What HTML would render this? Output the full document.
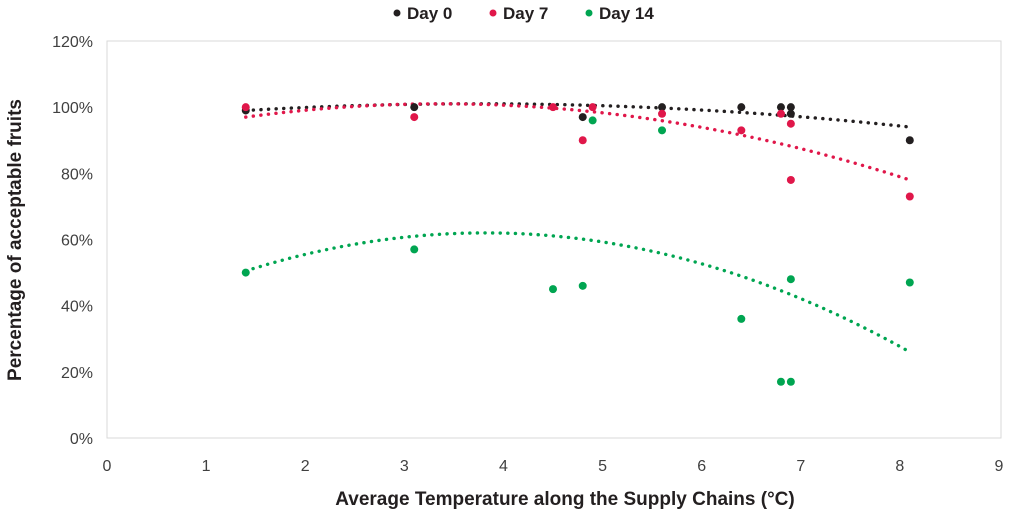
<!DOCTYPE html>
<html><head><meta charset="utf-8"><style>
body{margin:0;background:#fff;}
svg{display:block;font-family:"Liberation Sans",sans-serif;}
</style></head><body>
<svg id="chart" width="1009" height="519">
<rect x="107" y="41" width="894" height="397" fill="none" stroke="#d9d9d9" stroke-width="1"/>
<g id="legend">
<g><circle cx="397" cy="13" r="3.5" fill="#231f20"/><text x="407" y="19" font-size="17" font-weight="bold" fill="#231f20">Day 0</text></g>
<g><circle cx="493" cy="13" r="3.5" fill="#e0174a"/><text x="503" y="19" font-size="17" font-weight="bold" fill="#231f20">Day 7</text></g>
<g><circle cx="589" cy="13" r="3.5" fill="#00a551"/><text x="599" y="19" font-size="17" font-weight="bold" fill="#231f20">Day 14</text></g>
</g>
<g id="axes"></g>
<g id="marks"></g>
<text x="565" y="505" text-anchor="middle" font-size="19" font-weight="bold" fill="#231f20">Average Temperature along the Supply Chains (°C)</text>
<text transform="translate(21,240) rotate(-90)" text-anchor="middle" font-size="19" font-weight="bold" fill="#231f20">Percentage of acceptable fruits</text>
</svg>
<script>
const xTicks=[0,1,2,3,4,5,6,7,8,9];
const yTicks=[0,20,40,60,80,100,120];
const day0X=[1.4,3.1,4.8,5.6,6.4,6.8,6.9,6.9,8.1];
const day0Y=[99,100,97,100,100,100,100,98,90];
const day7X=[1.4,3.1,4.5,4.8,4.9,5.6,6.4,6.8,6.9,6.9,8.1];
const day7Y=[100,97,100,90,100,98,93,98,95,78,73];
const day14X=[1.4,3.1,4.5,4.8,4.9,5.6,6.4,6.8,6.9,6.9,8.1];
const day14Y=[50,57,45,46,96,93,36,17,17,48,47];
const trend0=[-0.3696,2.765,95.85];
const trend7=[-1.0306,6.955,89.28];
const trend14=[-1.9646,15.008,33.34];

const NS="http://www.w3.org/2000/svg";
const sx=v=>107+v*(892/9);
const sy=v=>438-v/120*397;
const axes=document.getElementById('axes'),marks=document.getElementById('marks');
function mk(tag,attrs,parent){const e=document.createElementNS(NS,tag);for(const k in attrs)e.setAttribute(k,attrs[k]);parent.appendChild(e);return e;}
xTicks.forEach(t=>{const e=mk('text',{x:sx(t),y:471,'text-anchor':'middle','font-size':16,fill:'#404040'},axes);e.textContent=t;

});
yTicks.forEach(t=>{const e=mk('text',{x:93,y:sy(t)+6,'text-anchor':'end','font-size':16,fill:'#404040'},axes);e.textContent=t+'%';

});
function trend(c,color,name){let pts=[];for(let i=0;i<=60;i++){const x=1.4+(8.1-1.4)*i/60;const y=c[0]*x*x+c[1]*x+c[2];pts.push(sx(x)+','+sy(y));}
const p=mk('polyline',{points:pts.join(' '),fill:'none',stroke:color,'stroke-width':3.4,'stroke-dasharray':'0.1 7.5','stroke-linecap':'round'},marks);

}
function pts(X,Y,color,name){X.forEach((x,i)=>{const c=mk('circle',{cx:sx(x),cy:sy(Y[i]),r:4,fill:color},marks);

});}
trend(trend0,'#231f20','trendline-day0');
trend(trend7,'#e0174a','trendline-day7');
trend(trend14,'#00a551','trendline-day14');
pts(day0X,day0Y,'#231f20','point-day0');
pts(day7X,day7Y,'#e0174a','point-day7');
pts(day14X,day14Y,'#00a551','point-day14');
</script>
</body></html>
